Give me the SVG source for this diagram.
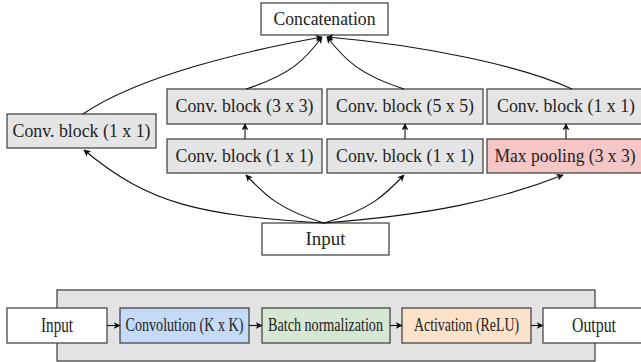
<svg xmlns="http://www.w3.org/2000/svg" width="641" height="362" viewBox="0 0 641 362">
<defs>
<marker id="ah" viewBox="0 0 10 10" refX="9" refY="5" markerWidth="7" markerHeight="7" markerUnits="userSpaceOnUse" orient="auto">
<path d="M0,0 L10,5 L0,10 L2.5,5 Z" fill="#111"/>
</marker>
<style>
.box{stroke:#3a3a3a;stroke-width:1.2}
.w{fill:#ffffff}
.g{fill:#e5e5e5}
.p{fill:#f4c6c6}
.b{fill:#c4daf6}
.gr{fill:#d6e8d4}
.o{fill:#fde2ca}
.t{font-family:"Liberation Serif","DejaVu Serif",serif;font-size:18px;fill:#222;text-anchor:middle}
.s{font-family:"Liberation Serif","DejaVu Serif",serif;font-size:18px;fill:#222;text-anchor:middle}
.c{fill:none;stroke:#111;stroke-width:1.1;marker-end:url(#ah)}
</style>
</defs>
<rect x="57" y="290" width="538" height="71" fill="#e3e3e3" stroke="#3a3a3a" stroke-width="1.2"/>
<g id="concat"><rect class="box w" x="261" y="3" width="127" height="32"/><text class="t" x="324.5" y="25" textLength="102" lengthAdjust="spacingAndGlyphs">Concatenation</text></g>
<g id="conv1x1_a"><rect class="box g" x="7" y="114" width="149" height="34"/><text class="t" x="81.5" y="137" textLength="138" lengthAdjust="spacingAndGlyphs">Conv. block (1 x 1)</text></g>
<g id="conv3x3"><rect class="box g" x="167" y="89" width="155" height="35"/><text class="t" x="244.5" y="112" textLength="138" lengthAdjust="spacingAndGlyphs">Conv. block (3 x 3)</text></g>
<g id="conv1x1_b"><rect class="box g" x="167" y="139" width="155" height="34"/><text class="t" x="244.5" y="162" textLength="138" lengthAdjust="spacingAndGlyphs">Conv. block (1 x 1)</text></g>
<g id="conv5x5"><rect class="box g" x="327" y="89" width="156" height="35"/><text class="t" x="405" y="112" textLength="138" lengthAdjust="spacingAndGlyphs">Conv. block (5 x 5)</text></g>
<g id="conv1x1_c"><rect class="box g" x="327" y="139" width="156" height="34"/><text class="t" x="405" y="162" textLength="138" lengthAdjust="spacingAndGlyphs">Conv. block (1 x 1)</text></g>
<g id="conv1x1_d"><rect class="box g" x="487" y="89" width="156" height="35"/><text class="t" x="566" y="112" textLength="138" lengthAdjust="spacingAndGlyphs">Conv. block (1 x 1)</text></g>
<g id="maxpool"><rect class="box p" x="487" y="139" width="156" height="34"/><text class="t" x="565" y="162" textLength="141" lengthAdjust="spacingAndGlyphs">Max pooling (3 x 3)</text></g>
<g id="input_top"><rect class="box w" x="262" y="223" width="127" height="32"/><text class="t" x="325.5" y="245" textLength="40" lengthAdjust="spacingAndGlyphs">Input</text></g>
<g id="input_b"><rect class="box w" x="7" y="308" width="100" height="35"/><text class="s" x="57" y="332" textLength="32" lengthAdjust="spacingAndGlyphs" style="font-size:21px">Input</text></g>
<g id="conv"><rect class="box b" x="120" y="308" width="129" height="35"/><text class="s" x="184.5" y="331" textLength="118" lengthAdjust="spacingAndGlyphs">Convolution (K x K)</text></g>
<g id="bn"><rect class="box gr" x="262" y="308" width="128" height="35"/><text class="s" x="325.5" y="331" textLength="115" lengthAdjust="spacingAndGlyphs">Batch normalization</text></g>
<g id="act"><rect class="box o" x="402" y="308" width="129" height="35"/><text class="s" x="466.5" y="331" textLength="105" lengthAdjust="spacingAndGlyphs">Activation (ReLU)</text></g>
<g id="output"><rect class="box w" x="543" y="308" width="100" height="35"/><text class="s" x="594" y="332" textLength="44" lengthAdjust="spacingAndGlyphs" style="font-size:21px">Output</text></g>
<g id="connectors">
<path class="c" d="M83,114 C140,75 250,50 322,37"/>
<path class="c" d="M246,89 C290,75 305,60 322,37"/>
<path class="c" d="M404,89 C360,75 345,60 327,37"/>
<path class="c" d="M572,89 C520,65 420,45 327,37"/>
<path class="c" d="M324,223 C200,215 150,205 84,150"/>
<path class="c" d="M324,223 C280,210 265,195 246,175"/>
<path class="c" d="M324,223 C370,210 385,195 404,175"/>
<path class="c" d="M324,223 C430,215 500,200 563,175"/>
<path class="c" d="M245,139 L245,124"/>
<path class="c" d="M405,139 L405,124"/>
<path class="c" d="M566,139 L566,124"/>
<path class="c" d="M107,325.5 L120,325.5"/>
<path class="c" d="M249,325.5 L262,325.5"/>
<path class="c" d="M390,325.5 L402,325.5"/>
<path class="c" d="M531,325.5 L543,325.5"/>
</g>
</svg>
